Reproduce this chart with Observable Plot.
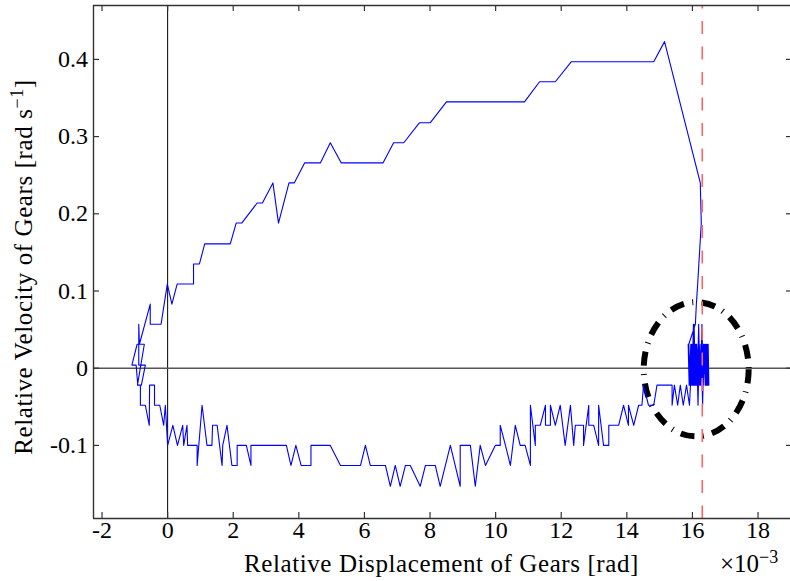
<!DOCTYPE html>
<html><head><meta charset="utf-8">
<script src="https://cdn.jsdelivr.net/npm/d3@7"></script>
<script src="https://cdn.jsdelivr.net/npm/@observablehq/plot@0.6"></script>
<style>html,body{margin:0;padding:0;background:#fff;overflow:hidden}</style>
</head><body><div id="chart"></div><script>
// Relative displacement (×10^-3 rad) and relative velocity (rad/s)
const upperX = [-0.56,-0.68,-0.83,-0.83,-0.91,-0.96,-1.09,-0.93,-0.71,-0.92,-0.80,-0.68,-0.88,-0.88,-0.86,-0.53,-0.53,-0.20,-0.01,0.13,0.29,0.79,0.79,0.97,1.13,1.91,2.09,2.26,2.73,2.89,3.21,3.38,3.70,3.86,4.18,4.66,4.96,5.29,6.57,6.89,7.20,7.68,8.01,8.50,10.88,11.34,11.82,12.31,14.82,15.15,16.24,16.27,16.16,16.12,16.09];
const upperV = [-0.074,-0.048,-0.048,-0.022,-0.022,0.004,0.004,0.031,0.031,-0.022,-0.022,0.004,0.004,0.057,0.031,0.083,0.057,0.057,0.109,0.083,0.109,0.109,0.135,0.135,0.161,0.161,0.188,0.188,0.214,0.214,0.240,0.188,0.240,0.240,0.266,0.266,0.292,0.266,0.266,0.292,0.292,0.318,0.318,0.345,0.345,0.371,0.371,0.397,0.397,0.423,0.240,0.188,0.109,0.083,0.057];
// oscillation near the stop, sweeping back and forth
const clusterX = [
15.89,15.93,15.97,16.01,16.05,16.09,16.13,16.17,16.21,16.25,16.29,16.33,16.37,16.41,16.45,
16.47,16.43,16.39,16.35,16.31,16.27,16.23,16.19,16.15,16.11,16.07,16.03,15.99,15.95,15.91,15.87,
15.90,15.94,15.98,16.02,16.06,16.10,16.14,16.18,16.22,16.26,16.30,16.34,16.38,16.42,16.46,16.50,
16.48,16.44,16.40,16.36,16.32,16.28,16.24,16.20,16.16,16.12,16.08,16.04,16.00,15.96,15.92,15.88,
15.91,15.95,15.99,16.03,16.07,16.11,16.15,16.19,16.23,16.27,16.31,16.35,16.39,16.43,16.47,
16.45,16.41,16.37,16.33,16.29,16.25,16.21,16.17,16.13,16.09,16.05,16.01,15.97];
const clusterV = [
0.031,-0.022,0.031,-0.022,0.057,-0.022,0.031,-0.048,0.031,-0.022,0.057,-0.022,0.031,-0.022,0.031,
-0.022,0.031,-0.022,0.031,-0.048,0.031,-0.022,0.057,-0.022,0.031,-0.022,0.057,-0.022,0.031,-0.022,0.031,
-0.022,0.004,0.031,-0.022,0.031,-0.022,0.004,0.031,-0.022,0.031,-0.022,0.031,0.004,-0.022,0.031,-0.022,
0.031,-0.022,0.031,0.004,-0.022,0.031,-0.022,0.031,0.004,-0.022,0.031,-0.022,0.031,-0.022,0.004,0.031,
-0.022,0.031,-0.022,0.031,-0.022,0.031,-0.022,0.031,-0.022,0.031,-0.022,0.031,-0.022,0.031,-0.022,
0.031,-0.022,0.031,-0.022,0.031,-0.022,0.031,-0.022,0.031,-0.022,0.031,-0.022,0.031];
// lower branch listed left to right (travelled right to left)
const lowerX = [-0.56,-0.55,-0.40,-0.40,-0.24,-0.12,-0.07,0.00,0.16,0.30,0.46,0.49,0.59,0.61,0.90,0.90,1.05,1.20,1.35,1.37,1.51,1.66,1.68,1.81,1.96,2.12,2.12,2.40,2.54,2.54,3.62,3.76,3.91,4.07,4.37,4.37,4.96,5.27,5.88,6.03,6.18,6.64,6.79,6.94,7.09,7.25,7.40,7.70,7.86,8.16,8.31,8.62,8.92,8.92,9.23,9.38,9.53,9.69,9.99,10.14,10.14,10.30,10.45,10.60,10.75,10.90,11.06,11.06,11.21,11.21,11.36,11.52,11.52,11.67,11.67,11.82,11.97,12.12,12.28,12.38,12.43,12.68,12.68,12.84,12.84,12.99,13.14,13.14,13.29,13.45,13.45,13.75,13.90,14.05,14.05,14.21,14.36,14.46,14.51,14.66,14.82,14.92,15.38,15.38,15.45,15.55,15.63,15.72,15.82,15.91,15.94];
const lowerV = [-0.074,-0.022,-0.022,-0.048,-0.048,-0.074,-0.048,-0.100,-0.074,-0.100,
-0.074,-0.100,-0.074,-0.100,-0.100,-0.126,-0.048,-0.100,-0.100,-0.074,
-0.074,-0.126,-0.100,-0.074,-0.126,-0.126,-0.100,-0.100,-0.126,-0.100,
-0.100,-0.126,-0.100,-0.126,-0.126,-0.100,-0.100,-0.126,-0.126,-0.100,
-0.126,-0.126,-0.153,-0.126,-0.153,-0.126,-0.126,-0.153,-0.126,-0.126,
-0.153,-0.100,-0.153,-0.100,-0.100,-0.153,-0.100,-0.126,-0.100,-0.100,
-0.074,-0.100,-0.126,-0.074,-0.100,-0.100,-0.126,-0.048,-0.100,-0.074,
-0.074,-0.048,-0.074,-0.074,-0.048,-0.074,-0.048,-0.100,-0.048,-0.100,
-0.074,-0.074,-0.100,-0.048,-0.074,-0.074,-0.100,-0.048,-0.100,-0.100,
-0.074,-0.074,-0.048,-0.074,-0.048,-0.074,-0.048,-0.048,-0.022,-0.048,
-0.048,-0.022,-0.022,-0.048,-0.022,-0.048,-0.022,-0.048,-0.022,-0.048,-0.022];

const xTicks = [-2,0,2,4,6,8,10,12,14,16,18];
const xTickLabels = ["-2","0","2","4","6","8","10","12","14","16","18"];
const yTicks = [-0.1,0,0.1,0.2,0.3,0.4];
const yTickLabels = ["-0.1","0","0.1","0.2","0.3","0.4"];
const xDomain = [-2.26, 18.99];
const yDomain = [-0.1947, 0.4698];
const limitX = 16.30;           // red dashed line
const ellipseCenter = [16.13, -0.002];
const ellipseRadii = [1.60, 0.087];

const xTitle = "Relative Displacement of Gears [rad]";
const yTitleMain = "Relative Velocity of Gears [rad s";
const yTitleSup = "\u22121";
const multiplierBase = "\u00d710";
const multiplierSup = "\u22123";

const toPts = (xs, vs) => xs.map((x, i) => ({x, v: vs[i]}));
const path = [
  ...toPts(upperX, upperV),
  ...toPts(clusterX, clusterV),
  ...toPts(lowerX, lowerV).reverse()
];

const FONT = "Liberation Serif";
const tickStroke = "#333";

const chart = Plot.plot({
  width: 790, height: 581,
  marginLeft: 93, marginRight: 0, marginTop: 5, marginBottom: 63,
  style: {background: "white", color: "black"},
  x: {domain: xDomain, axis: null},
  y: {domain: yDomain, axis: null},
  marks: [
    Plot.ruleX([0], {stroke: "#000", strokeWidth: 1}),
    Plot.ruleY([0], {stroke: "#555", strokeWidth: 1.6}),
    Plot.line(path, {x: "x", y: "v", stroke: "#0000ff", strokeWidth: 1.1}),
    Plot.ruleX([limitX], {stroke: "#ff6464", strokeWidth: 1.6, strokeDasharray: "13,12.5", strokeDashoffset: 9.5}),
    // frame (left, top, bottom)
    Plot.ruleX([xDomain[0]], {stroke: tickStroke, strokeWidth: 1.4}),
    Plot.ruleY([yDomain[1]], {stroke: tickStroke, strokeWidth: 1.4}),
    Plot.ruleY([yDomain[0]], {stroke: tickStroke, strokeWidth: 1.4}),
    // inward ticks
    Plot.ruleX(xTicks, {x: d => d, insetTop: 507, stroke: tickStroke, strokeWidth: 1.2}),
    Plot.ruleX(xTicks, {x: d => d, insetBottom: 507, stroke: tickStroke, strokeWidth: 1.2}),
    Plot.ruleY(yTicks, {y: d => d, insetRight: 691, stroke: tickStroke, strokeWidth: 1.2}),
    Plot.ruleY(yTicks, {y: d => d, insetLeft: 693, stroke: tickStroke, strokeWidth: 1.2}),
    // tick labels
    Plot.text(xTicks, {x: d => d, frameAnchor: "bottom", dy: 19, text: (d, i) => xTickLabels[i], fontSize: 24, fontFamily: FONT, fill: "black"}),
    Plot.text(yTicks, {y: d => d, frameAnchor: "left", dx: -5.5, textAnchor: "end", text: (d, i) => yTickLabels[i], fontSize: 24, fontFamily: FONT, fill: "black"})
  ]
});

document.getElementById("chart").appendChild(chart);

const svg = d3.select(chart);
const sx = chart.scale("x"), sy = chart.scale("y");
const lin = (s) => s.apply ? (v) => s.apply(v) : (v) => s.range[0] + (v - s.domain[0]) / (s.domain[1] - s.domain[0]) * (s.range[1] - s.range[0]);
const fx = lin(sx), fy = lin(sy);

// dash-dot ellipse drawn underneath the trajectory
const cx = fx(ellipseCenter[0]), cy = fy(ellipseCenter[1]);
const rx = Math.abs(fx(ellipseCenter[0] + ellipseRadii[0]) - cx);
const ry = Math.abs(fy(ellipseCenter[1] + ellipseRadii[1]) - cy);
svg.insert("ellipse", 'g[aria-label="line"]')
  .attr("cx", cx).attr("cy", cy).attr("rx", rx).attr("ry", ry)
  .attr("fill", "none").attr("stroke", "#000").attr("stroke-width", 6)
  .attr("stroke-dasharray", "14,8.5,1,8.5");

// axis titles
const plotMidX = (fx(xDomain[0]) + fx(xDomain[1])) / 2;
svg.append("text")
  .attr("x", plotMidX).attr("y", 572)
  .attr("text-anchor", "middle")
  .attr("font-family", FONT).attr("font-size", 25).attr("letter-spacing", 0.6)
  .attr("fill", "black")
  .text(xTitle);

const mult = svg.append("text")
  .attr("x", 720).attr("y", 572)
  .attr("text-anchor", "start")
  .attr("font-family", FONT).attr("font-size", 25).attr("fill", "black");
mult.append("tspan").text(multiplierBase);
mult.append("tspan").attr("dy", -9).attr("font-size", 18).text(multiplierSup);

const yt = svg.append("text")
  .attr("transform", `translate(32,${267}) rotate(-90)`)
  .attr("text-anchor", "middle")
  .attr("font-family", FONT).attr("font-size", 25).attr("letter-spacing", 0.6)
  .attr("fill", "black");
yt.append("tspan").text(yTitleMain);
yt.append("tspan").attr("dy", -9).attr("font-size", 18).text(yTitleSup);
yt.append("tspan").attr("dy", 9).text("]");
</script></body></html>
